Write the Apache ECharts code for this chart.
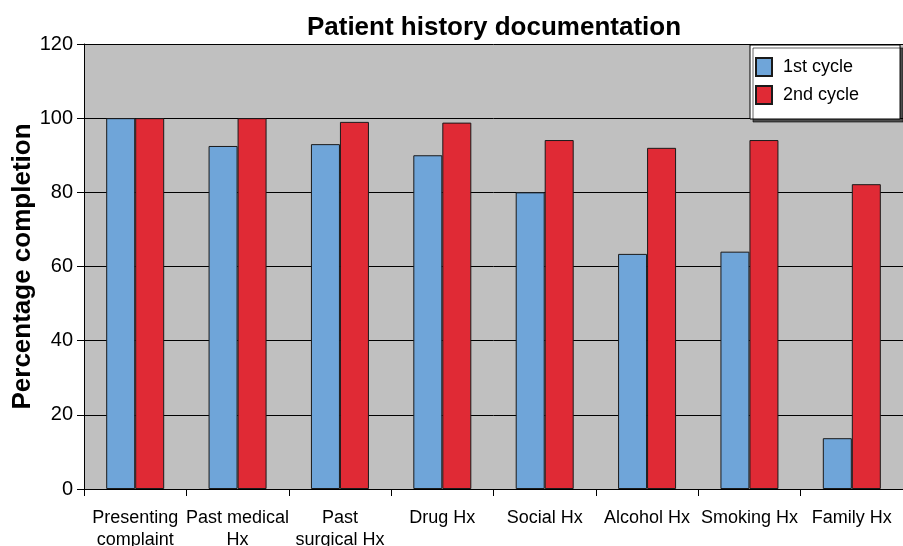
<!DOCTYPE html>
<html>
<head>
<meta charset="utf-8">
<title>Patient history documentation</title>
<script src="https://cdn.jsdelivr.net/npm/echarts@6/dist/echarts.min.js"></script>
<style>
  html, body { margin: 0; padding: 0; background: #fff; }
  #chart { width: 903px; height: 546px; }
</style>
</head>
<body>
<div id="chart"></div>
<script>
// chart data
var categories = ['Presenting\ncomplaint', 'Past medical\nHx', 'Past\nsurgical Hx', 'Drug Hx',
                  'Social Hx', 'Alcohol Hx', 'Smoking Hx', 'Family Hx'];
var firstCycle = [100, 92.5, 93, 90, 80, 63.4, 64, 13.7];
var secondCycle = [100, 100, 99, 98.8, 94.1, 92, 94.1, 82.2];
var yTicks = { min: 0, max: 120, step: 20 };

(function () {
    var myChart = echarts.init(document.getElementById('chart'));
    var font = 'Liberation Sans, Arial, sans-serif';

    var option = {
        animation: false,
        textStyle: { fontFamily: font, color: '#000' },
        title: {
            text: 'Patient history documentation',
            left: 494,
            top: 15,
            padding: 0,
            textAlign: 'center',
            textStyle: { fontSize: 26, fontWeight: 'bold', color: '#000', fontFamily: font }
        },
        legend: {
            data: ['1st cycle', '2nd cycle'],
            orient: 'vertical',
            left: 750,
            top: 45,
            padding: [12, 41, 14, 5],
            itemWidth: 16,
            itemHeight: 18,
            itemGap: 8,
            icon: 'rect',
            backgroundColor: '#fff',
            borderColor: '#000',
            borderWidth: 1,
            shadowColor: 'rgba(0,0,0,0.6)',
            shadowOffsetX: 3,
            shadowOffsetY: 3,
            shadowBlur: 0,
            textStyle: { fontSize: 18, color: '#000', fontFamily: font, padding: [0, 0, 0, 6] }
        },
        grid: {
            left: 84,
            right: 0,
            top: 44,
            bottom: 57,
            outerBoundsMode: 'none',
            containLabel: false,
            show: true,
            backgroundColor: '#c0c0c0',
            borderWidth: 0
        },
        xAxis: {
            type: 'category',
            data: categories,
            axisLine: { lineStyle: { color: '#000', width: 1 } },
            axisTick: { show: true, length: 7, lineStyle: { color: '#000' } },
            axisLabel: {
                interval: 0,
                margin: 18,
                fontSize: 18,
                lineHeight: 22,
                color: '#000',
                fontFamily: font
            }
        },
        yAxis: {
            type: 'value',
            min: yTicks.min,
            max: yTicks.max,
            interval: yTicks.step,
            name: 'Percentage completion',
            nameLocation: 'middle',
            nameGap: 48,
            nameMoveOverlap: false,
            nameTextStyle: { fontSize: 26, fontWeight: 'bold', color: '#000', fontFamily: font },
            axisLine: { show: true, lineStyle: { color: '#000', width: 1 } },
            axisTick: { show: true, length: 7, lineStyle: { color: '#000' } },
            axisLabel: { margin: 11, fontSize: 20, color: '#000', fontFamily: font },
            splitLine: { show: true, lineStyle: { color: '#000', width: 1 } }
        },
        series: [
            {
                name: '1st cycle',
                type: 'bar',
                barWidth: 29,
                barGap: '0%',
                itemStyle: { color: '#6fa5d9', borderColor: '#1a1a1a', borderWidth: 1 },
                data: firstCycle
            },
            {
                name: '2nd cycle',
                type: 'bar',
                barWidth: 29,
                barGap: '0%',
                itemStyle: { color: '#e02a35', borderColor: '#1a1a1a', borderWidth: 1 },
                data: secondCycle
            }
        ]
    };

    myChart.setOption(option);
})();
</script>
</body>
</html>
